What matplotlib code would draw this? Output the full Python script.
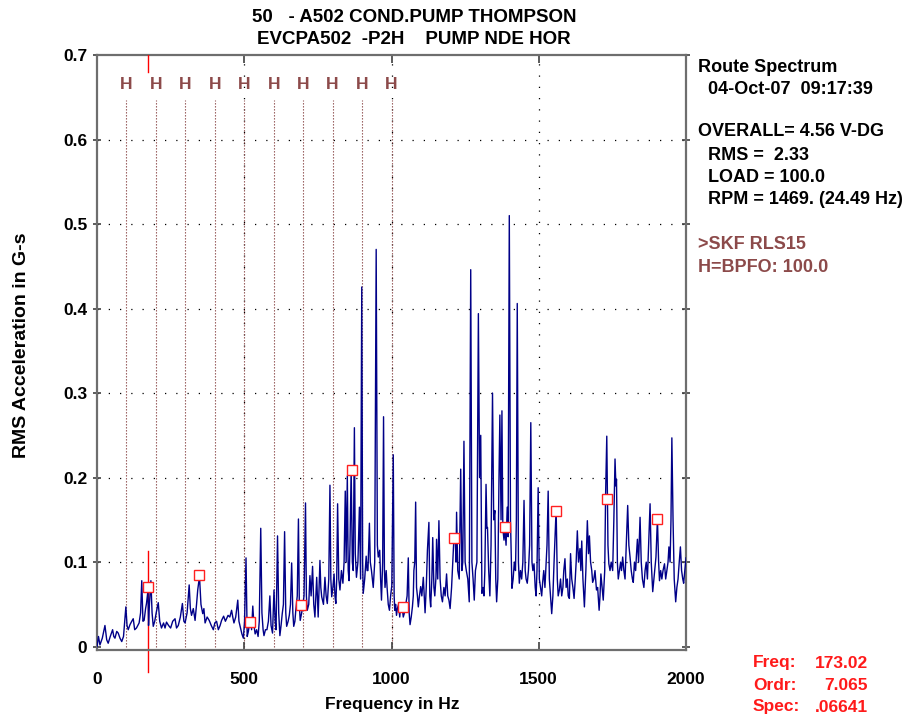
import matplotlib
matplotlib.use("Agg")
import matplotlib.pyplot as plt

plt.rcParams['font.family'] = ['Liberation Sans', 'DejaVu Sans']

# ---------------- data ----------------
freq_hz = [
    0, 5, 10, 18, 27, 33, 38, 45, 53, 57, 61, 67, 72, 78, 84, 90, 98, 102, 106, 112,
    118, 123, 128, 134, 143, 148, 152, 156, 160, 165, 168, 173, 175, 178, 183, 187, 191, 196, 201, 208,
    213, 219, 226, 231, 236, 243, 250, 257, 265, 270, 276, 283, 290, 295, 299, 306, 313, 317, 321, 327,
    333, 338, 342, 348, 353, 359, 363, 367, 374, 381, 388, 395, 400, 406, 412, 418, 423, 430, 436, 440,
    445, 451, 457, 461, 465, 471, 478, 482, 486, 492, 497, 501, 506, 510, 514, 517, 521, 525, 529, 533,
    537, 542, 547, 551, 556, 560, 564, 567, 572, 577, 582, 587, 591, 596, 601, 605, 608, 613, 617, 621,
    625, 629, 633, 637, 641, 644, 649, 653, 657, 661, 665, 668, 672, 675, 680, 684, 687, 690, 695, 699,
    703, 708, 711, 714, 719, 723, 727, 732, 736, 740, 746, 751, 757, 760, 763, 769, 774, 778, 782, 787,
    791, 794, 797, 801, 805, 808, 811, 814, 817, 821, 825, 830, 835, 839, 843, 846, 850, 853, 856, 859,
    863, 867, 870, 874, 877, 881, 886, 891, 895, 899, 902, 904, 909, 914, 917, 920, 925, 928, 932, 938,
    943, 948, 952, 955, 960, 963, 966, 970, 973, 976, 978, 982, 985, 989, 993, 997, 1001, 1006, 1009, 1011,
    1014, 1017, 1020, 1024, 1028, 1032, 1036, 1040, 1044, 1049, 1053, 1057, 1060, 1063, 1067, 1071, 1074, 1076, 1079, 1082,
    1085, 1088, 1091, 1095, 1099, 1103, 1108, 1111, 1114, 1118, 1122, 1127, 1130, 1133, 1137, 1140, 1144, 1147, 1151, 1153,
    1157, 1161, 1165, 1169, 1173, 1178, 1182, 1187, 1191, 1195, 1199, 1204, 1208, 1212, 1216, 1219, 1221, 1225, 1230, 1235,
    1239, 1242, 1246, 1250, 1254, 1259, 1264, 1269, 1273, 1277, 1281, 1285, 1290, 1295, 1299, 1303, 1307, 1311, 1314, 1317,
    1321, 1324, 1326, 1330, 1334, 1338, 1343, 1347, 1351, 1354, 1357, 1361, 1365, 1368, 1372, 1375, 1378, 1382, 1385, 1389,
    1393, 1396, 1400, 1404, 1409, 1413, 1417, 1421, 1424, 1427, 1431, 1434, 1438, 1442, 1446, 1450, 1454, 1457, 1461, 1465,
    1469, 1473, 1477, 1480, 1484, 1488, 1491, 1494, 1498, 1502, 1506, 1510, 1513, 1517, 1521, 1525, 1528, 1532, 1536, 1540,
    1544, 1548, 1552, 1559, 1563, 1566, 1570, 1574, 1578, 1582, 1585, 1589, 1593, 1597, 1600, 1604, 1608, 1612, 1616, 1620,
    1624, 1627, 1631, 1635, 1640, 1643, 1646, 1650, 1655, 1660, 1665, 1669, 1672, 1676, 1680, 1683, 1687, 1691, 1696, 1700,
    1705, 1708, 1711, 1715, 1719, 1724, 1727, 1731, 1735, 1738, 1742, 1746, 1751, 1755, 1759, 1762, 1764, 1767, 1770, 1774,
    1778, 1781, 1785, 1789, 1793, 1797, 1802, 1806, 1810, 1814, 1818, 1821, 1825, 1829, 1832, 1835, 1839, 1844, 1848, 1852,
    1857, 1861, 1865, 1869, 1873, 1878, 1882, 1887, 1891, 1894, 1898, 1903, 1907, 1910, 1914, 1918, 1922, 1927, 1931, 1935,
    1939, 1942, 1946, 1949, 1952, 1956, 1960, 1965, 1969, 1973, 1977, 1981, 1985, 1989, 1992, 1996, 2000,
]
amp_g = [
    0.0, 0.012, 0.002, 0.01, 0.025, 0.008, 0.004, 0.012, 0.02, 0.012, 0.01, 0.018, 0.016, 0.01, 0.006, 0.012, 0.047, 0.025, 0.02, 0.026,
    0.03, 0.033, 0.02, 0.022, 0.028, 0.04, 0.078, 0.03, 0.031, 0.045, 0.051, 0.066, 0.025, 0.05, 0.078, 0.04, 0.024, 0.03, 0.04, 0.052,
    0.03, 0.022, 0.028, 0.022, 0.029, 0.025, 0.022, 0.03, 0.033, 0.022, 0.025, 0.035, 0.051, 0.03, 0.028, 0.04, 0.073, 0.045, 0.037, 0.045,
    0.031, 0.05, 0.067, 0.083, 0.05, 0.039, 0.045, 0.028, 0.035, 0.031, 0.025, 0.02, 0.028, 0.03, 0.02, 0.025, 0.031, 0.036, 0.03, 0.033,
    0.037, 0.035, 0.043, 0.035, 0.028, 0.035, 0.055, 0.03, 0.024, 0.015, 0.01, 0.03, 0.105, 0.012, 0.018, 0.025, 0.03, 0.02, 0.048, 0.025,
    0.015, 0.02, 0.012, 0.03, 0.14, 0.04, 0.02, 0.013, 0.02, 0.02, 0.03, 0.06, 0.025, 0.016, 0.067, 0.03, 0.02, 0.131, 0.04, 0.013,
    0.025, 0.039, 0.05, 0.136, 0.04, 0.024, 0.03, 0.037, 0.05, 0.099, 0.04, 0.024, 0.03, 0.043, 0.06, 0.151, 0.05, 0.031, 0.04, 0.049,
    0.06, 0.17, 0.06, 0.043, 0.05, 0.084, 0.06, 0.095, 0.05, 0.035, 0.082, 0.035, 0.102, 0.07, 0.059, 0.05, 0.082, 0.06, 0.051, 0.08,
    0.191, 0.08, 0.059, 0.07, 0.086, 0.06, 0.051, 0.08, 0.169, 0.08, 0.067, 0.09, 0.075, 0.1, 0.184, 0.1, 0.202, 0.09, 0.078, 0.12,
    0.21, 0.1, 0.09, 0.259, 0.11, 0.082, 0.1, 0.165, 0.08, 0.4255, 0.1, 0.063, 0.08, 0.107, 0.09, 0.09, 0.146, 0.1, 0.09, 0.07,
    0.1, 0.47, 0.12, 0.106, 0.114, 0.08, 0.055, 0.1, 0.272, 0.09, 0.07, 0.09, 0.07, 0.05, 0.043, 0.06, 0.072, 0.227, 0.06, 0.043,
    0.05, 0.037, 0.045, 0.05, 0.035, 0.052, 0.047, 0.035, 0.04, 0.051, 0.06, 0.105, 0.04, 0.026, 0.035, 0.047, 0.06, 0.09, 0.1, 0.171,
    0.07, 0.06, 0.047, 0.06, 0.071, 0.06, 0.082, 0.06, 0.04, 0.07, 0.114, 0.147, 0.06, 0.047, 0.08, 0.129, 0.07, 0.06, 0.082, 0.127,
    0.08, 0.149, 0.08, 0.06, 0.053, 0.07, 0.06, 0.086, 0.06, 0.055, 0.045, 0.07, 0.1, 0.129, 0.133, 0.1, 0.159, 0.09, 0.08, 0.21,
    0.09, 0.1, 0.243, 0.1, 0.09, 0.08, 0.053, 0.446, 0.1, 0.08, 0.055, 0.09, 0.1, 0.394, 0.2, 0.25, 0.063, 0.07, 0.06, 0.09,
    0.192, 0.14, 0.141, 0.09, 0.06, 0.12, 0.3, 0.15, 0.161, 0.08, 0.053, 0.08, 0.2, 0.274, 0.15, 0.279, 0.14, 0.126, 0.141, 0.12,
    0.165, 0.13, 0.51, 0.15, 0.069, 0.08, 0.1, 0.09, 0.15, 0.406, 0.1, 0.075, 0.09, 0.08, 0.1, 0.173, 0.09, 0.08, 0.075, 0.09,
    0.12, 0.265, 0.1, 0.09, 0.098, 0.07, 0.06, 0.09, 0.188, 0.08, 0.07, 0.06, 0.075, 0.09, 0.07, 0.1, 0.12, 0.184, 0.08, 0.06,
    0.039, 0.06, 0.1, 0.163, 0.08, 0.06, 0.067, 0.08, 0.06, 0.07, 0.09, 0.104, 0.07, 0.08, 0.06, 0.057, 0.11, 0.08, 0.07, 0.057,
    0.08, 0.1, 0.137, 0.1, 0.116, 0.09, 0.125, 0.08, 0.047, 0.09, 0.149, 0.11, 0.131, 0.1, 0.09, 0.076, 0.08, 0.09, 0.067, 0.07,
    0.043, 0.06, 0.086, 0.07, 0.055, 0.09, 0.18, 0.249, 0.12, 0.098, 0.09, 0.1, 0.09, 0.15, 0.222, 0.19, 0.198, 0.1, 0.08, 0.09,
    0.1, 0.09, 0.106, 0.09, 0.08, 0.12, 0.167, 0.12, 0.106, 0.09, 0.08, 0.076, 0.1, 0.09, 0.11, 0.127, 0.1, 0.153, 0.1, 0.08,
    0.07, 0.09, 0.1, 0.08, 0.12, 0.169, 0.1, 0.065, 0.08, 0.09, 0.106, 0.151, 0.1, 0.078, 0.09, 0.08, 0.09, 0.098, 0.08, 0.09,
    0.1, 0.118, 0.1, 0.15, 0.247, 0.15, 0.08, 0.053, 0.07, 0.08, 0.1, 0.118, 0.09, 0.08, 0.075, 0.09, 0.105,
]

# harmonic cursor markers (multiples of 173.02 Hz)
marker_freq = [173.02, 346.04, 519.06, 692.08, 865.10, 1038.12, 1211.14, 1384.16, 1557.18, 1730.20, 1903.22]
marker_amp = [0.0706, 0.085, 0.029, 0.049, 0.209, 0.047, 0.129, 0.141, 0.161, 0.175, 0.151]

# BPFO fault-frequency harmonic lines
bpfo_freq = [100, 200, 300, 400, 500, 600, 700, 800, 900, 1000]

cursor_freq = 173.02
x_ticks = [0, 500, 1000, 1500, 2000]
y_ticks = [0, 0.1, 0.2, 0.3, 0.4, 0.5, 0.6, 0.7]
y_ticklabels = ['0', '0.1', '0.2', '0.3', '0.4', '0.5', '0.6', '0.7']

title_lines = ["50   - A502 COND.PUMP THOMPSON", "EVCPA502  -P2H    PUMP NDE HOR"]
info_black = ["Route Spectrum", "  04-Oct-07  09:17:39", "", "OVERALL= 4.56 V-DG",
              "  RMS =  2.33", "  LOAD = 100.0", "  RPM = 1469. (24.49 Hz)"]
info_brown = [">SKF RLS15", "H=BPFO: 100.0"]
readout_labels = ["Freq:", "Ordr:", "Spec:"]
readout_values = ["173.02", "7.065", ".06641"]

# ---------------- figure ----------------
W, H = 906, 716
fig = plt.figure(figsize=(W / 100, H / 100), dpi=100)
L, R, T, B = 97, 686, 55, 650
ax = fig.add_axes([L / W, 1 - B / H, (R - L) / W, (B - T) / H])

brown = '#8c4a4a'
ax.set_xlim(0, 2000)
ax.set_ylim(-0.004, 0.7)

# grid
for xv in [500, 1000, 1500]:
    ax.axvline(xv, color='black', lw=0.9, ls=(0, (1, 8)), zorder=1)
for yv in [0.1, 0.2, 0.3, 0.4, 0.5, 0.6]:
    ax.axhline(yv, color='black', lw=0.9, ls=(0, (1, 8)), zorder=1)

# BPFO lines and labels
for f in bpfo_freq:
    ax.plot([f, f], [0.0, 0.647], color=brown, lw=0.8, ls=(0, (1.2, 1.5)), zorder=1)
    ax.text(f, 0.665, "H", color=brown, fontsize=12.5, fontweight='bold',
            ha='center', va='center')

# spectrum
ax.plot(freq_hz, amp_g, color='#000088', lw=1.0, zorder=3)

# cursor
ax.plot([cursor_freq, cursor_freq], [0.68, 0.7], color='red', lw=1.0, zorder=4)
ax.plot([cursor_freq, cursor_freq], [0.113, -0.03], color='red', lw=1.0, zorder=2, clip_on=False)

# harmonic markers
ax.plot(marker_freq, marker_amp, ls='none', marker='s', ms=7, mfc='white',
        mec='#ff2020', mew=1.0, zorder=5)

# axes styling
for s in ax.spines.values():
    s.set_color('#6e6e6e')
    s.set_linewidth(1.6)
ax.set_xticks(x_ticks)
ax.set_xticklabels([str(v) for v in x_ticks])
ax.set_yticks(y_ticks)
ax.set_yticklabels(y_ticklabels)
ax.tick_params(axis='both', which='major', labelsize=12.5, length=6, width=1.2, color='#404040')
ax.tick_params(axis='y', direction='inout', right=True, pad=4)
ax.tick_params(axis='x', direction='in', top=True, pad=16)
for lab in ax.get_xticklabels() + ax.get_yticklabels():
    lab.set_fontweight('bold')

fig.text(392 / W, 1 - 704 / H, "Frequency in Hz", ha='center', va='center',
         fontsize=12.5, fontweight='bold')
fig.text(21.5 / W, 1 - 345 / H, "RMS Acceleration in G-s", ha='center', va='center',
         rotation=90, fontsize=14, fontweight='bold')

# title
fig.text(414 / W, 1 - 18 / H, title_lines[0], ha='center', va='center', fontsize=13.5, fontweight='bold')
fig.text(414 / W, 1 - 40 / H, title_lines[1], ha='center', va='center', fontsize=13.5, fontweight='bold')

# info panel
ys_black = [68, 89, 110, 132, 155, 177, 200]
for txt, y in zip(info_black, ys_black):
    if txt:
        fig.text(698 / W, 1 - y / H, txt, ha='left', va='center', fontsize=13, fontweight='bold')
for txt, y in zip(info_brown, [245, 267]):
    fig.text(698 / W, 1 - y / H, txt, ha='left', va='center', fontsize=13, fontweight='bold', color=brown)

# readout
for lab, val, y in zip(readout_labels, readout_values, [663, 685, 707]):
    fig.text(753 / W, 1 - y / H, lab, ha='left', va='center', fontsize=12.5, fontweight='bold', color='#ff1a1a')
    fig.text(868 / W, 1 - y / H, val, ha='right', va='center', fontsize=12.5, fontweight='bold', color='#ff1a1a')

fig.savefig("out.png", dpi=100)
